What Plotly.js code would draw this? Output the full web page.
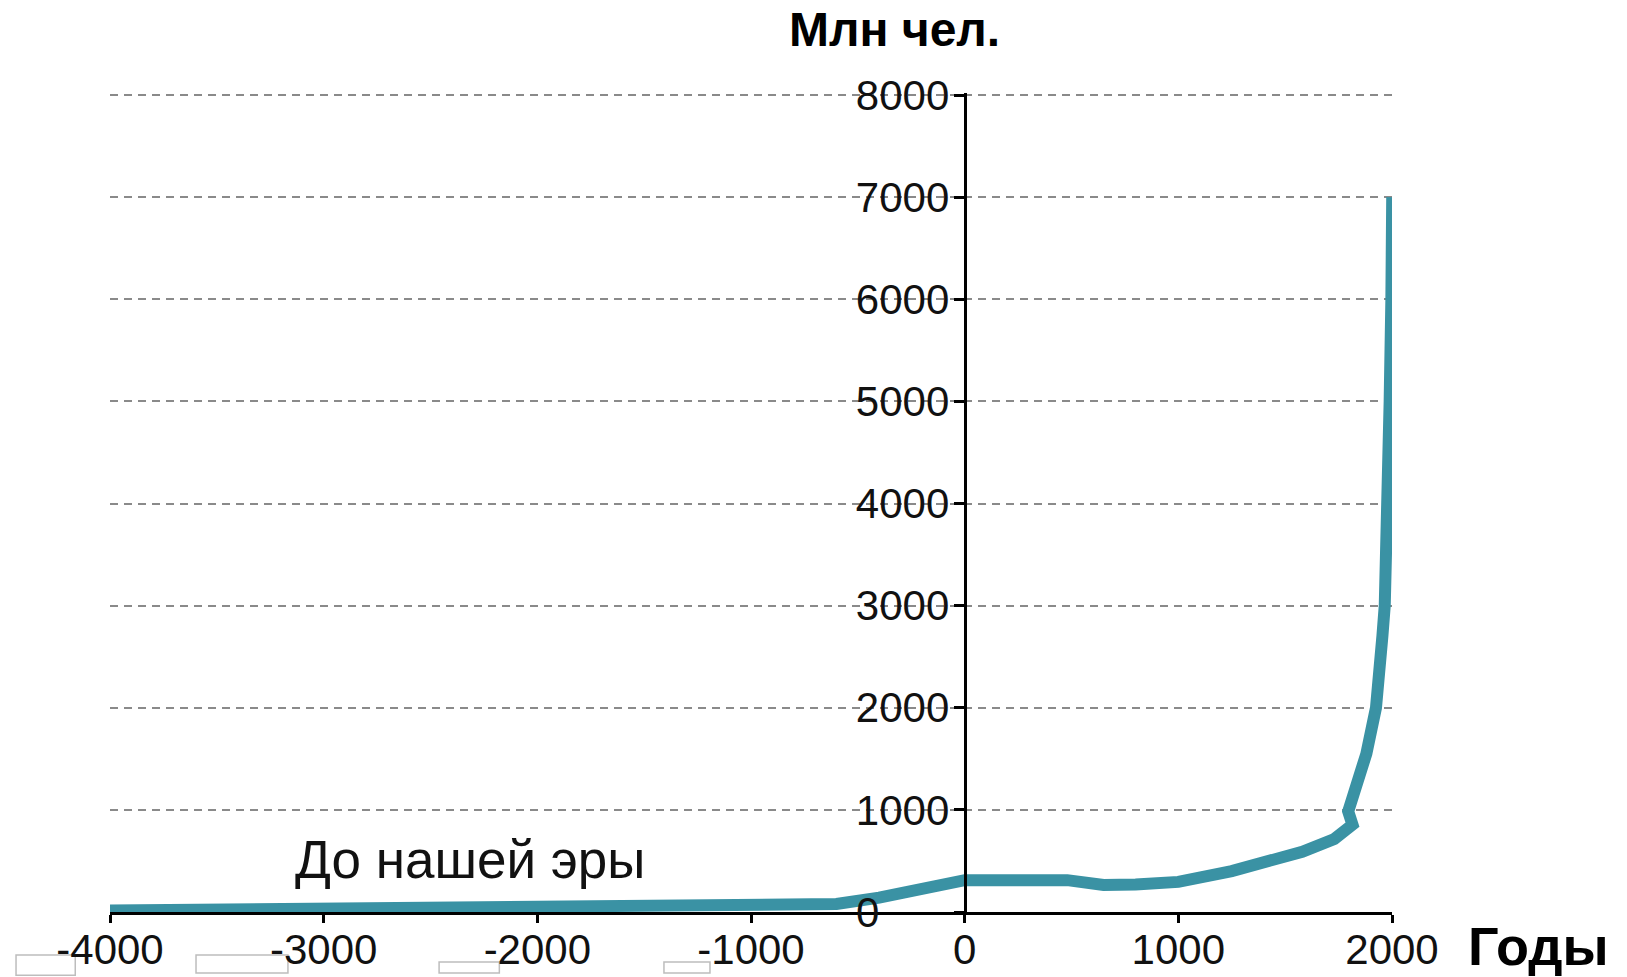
<!DOCTYPE html>
<html>
<head>
<meta charset="utf-8">
<script src="https://cdn.plot.ly/plotly-3.0.1.min.js"></script>
<style>
  html, body { margin: 0; padding: 0; background: #ffffff; }
  #chart { width: 1627px; height: 977px; }
</style>
</head>
<body>
<div id="chart"></div>
<script>
// Years (x) and world population in millions (y)
const years = [-4000, -3000, -2000, -1200, -600, -400, -200, 0, 480, 650, 800, 1000,
               1250, 1420, 1580, 1730, 1815, 1795, 1840, 1880, 1925, 1945, 1955, 1966,
               1975, 1979, 1989, 1997, 2001];
const population = [15, 28, 38, 48, 78, 140, 235, 312, 312, 265, 270, 295,
                     400, 490, 590, 715, 855, 985, 1250, 1550, 2000, 2350, 2700, 3000,
                     3500, 4000, 5000, 6000, 7000];

const xTicks = [-4000, -3000, -2000, -1000, 0, 1000, 2000];
const xTickText = ['-4000', '-3000', '-2000', '-1000', '0', '1000', '2000'];
const yTicks = [0, 1000, 2000, 3000, 4000, 5000, 6000, 7000, 8000];
const yTickText = ['', '1000', '2000', '3000', '4000', '5000', '6000', '7000', '8000'];

const yAxisTitle = 'Млн чел.';
const xAxisTitle = 'Годы';
const eraLabel = 'До нашей эры';
const zeroLabel = '0';

const FONT = 'Liberation Sans, Arial, sans-serif';

const trace = {
  x: years,
  y: population,
  type: 'scatter',
  mode: 'lines',
  line: { color: '#3a92a4', width: 12 },
  cliponaxis: false,
  hoverinfo: 'x+y',
  showlegend: false
};

// empty little boxes under the x-axis labels (artifacts in the original)
const boxes = [
  [-0.0733, -0.0271, -0.0771, -0.0526],
  [0.0671, 0.1388, -0.0746, -0.0526],
  [0.2567, 0.3037, -0.0746, -0.0612],
  [0.4321, 0.4680, -0.0746, -0.0612]
];

const layout = {
  width: 1627,
  height: 977,
  autosize: false,
  paper_bgcolor: '#ffffff',
  plot_bgcolor: '#ffffff',
  margin: { l: 110, r: 235, t: 93, b: 65, pad: 0 },
  font: { family: FONT, color: '#111111' },
  xaxis: {
    range: [-4000, 2000],
    tickvals: xTicks,
    ticktext: xTickText,
    showgrid: false,
    zeroline: false,
    showline: true,
    linecolor: '#000000',
    linewidth: 3,
    ticks: 'outside',
    ticklen: 8,
    tickwidth: 3,
    tickcolor: '#000000',
    ticklabelstandoff: -9,
    tickfont: { size: 42, family: FONT, color: '#111111' },
    fixedrange: true
  },
  yaxis: {
    range: [0, 8020],
    tickvals: yTicks,
    ticktext: yTickText,
    anchor: 'free',
    position: 4 / 6,
    showgrid: true,
    gridcolor: '#8a8a8a',
    gridwidth: 2,
    griddash: '8px,6px',
    zeroline: false,
    showline: true,
    linecolor: '#000000',
    linewidth: 3,
    ticks: 'outside',
    ticklen: 10,
    tickwidth: 3,
    tickcolor: '#000000',
    ticklabelstandoff: -4,
    tickfont: { size: 42, family: FONT, color: '#111111' },
    fixedrange: true
  },
  annotations: [
    { text: '<b>' + yAxisTitle + '</b>', xref: 'paper', yref: 'paper', x: 0.6123, y: 1.078,
      xanchor: 'center', yanchor: 'middle', showarrow: false,
      font: { size: 48, family: FONT, color: '#000000' } },
    { text: '<b>' + xAxisTitle + '</b>', xref: 'paper', yref: 'paper', x: 1.114, y: -0.042,
      xanchor: 'center', yanchor: 'middle', showarrow: false,
      font: { size: 54, family: FONT, color: '#000000' } },
    { text: eraLabel, xref: 'paper', yref: 'paper', x: 0.2808, y: 0.064,
      xanchor: 'center', yanchor: 'middle', showarrow: false,
      font: { size: 53, family: FONT, color: '#111111' } },
    { text: zeroLabel, xref: 'x', yref: 'y', x: -454, y: 0,
      xanchor: 'center', yanchor: 'middle', showarrow: false,
      font: { size: 42, family: FONT, color: '#111111' } }
  ],
  shapes: boxes.map(b => ({
    type: 'rect', xref: 'paper', yref: 'paper',
    x0: b[0], x1: b[1], y0: b[2], y1: b[3],
    fillcolor: 'rgba(255,255,255,0)', line: { color: '#bdbdbd', width: 1.5 }, layer: 'below'
  }))
};

Plotly.newPlot('chart', [trace], layout, { displayModeBar: false, staticPlot: true });
</script>
</body>
</html>
